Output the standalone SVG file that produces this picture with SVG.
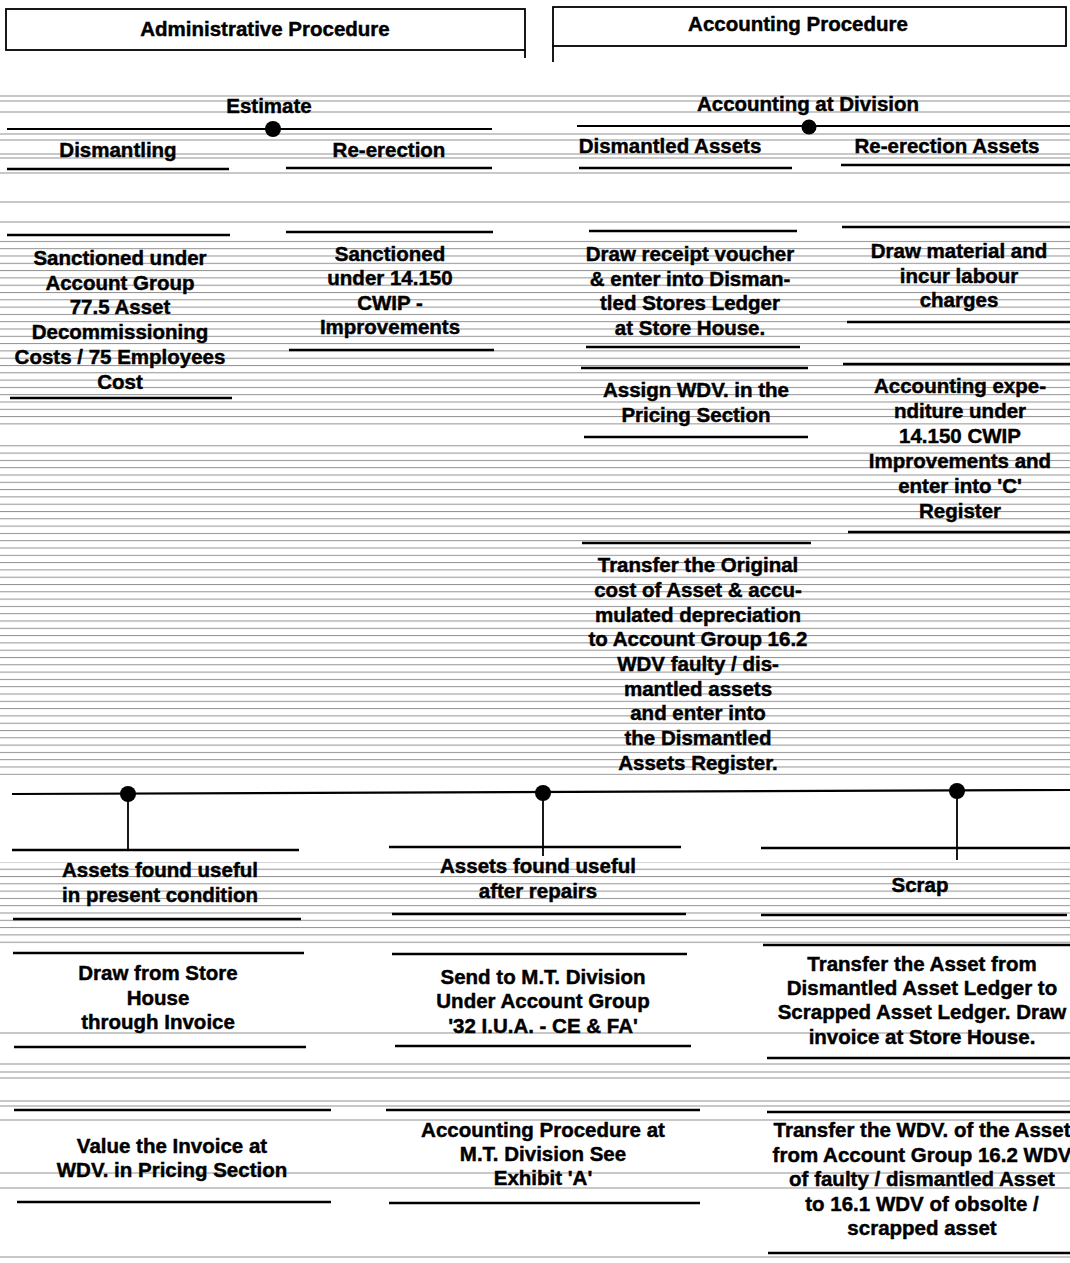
<svg xmlns="http://www.w3.org/2000/svg" width="1070" height="1263" viewBox="0 0 1070 1263">
<defs>
<pattern id="scan" x="0" y="0" width="20" height="7.3" patternUnits="userSpaceOnUse">
<line x1="0" y1="0.5" x2="20" y2="0.5" stroke="#919191" stroke-width="1"/>
</pattern>
<style>
.t{font-family:"Liberation Sans",Arial,Helvetica,sans-serif;font-weight:bold;font-size:20.5px;fill:#000;stroke:#000;stroke-width:0.45;text-anchor:middle}
.rule{stroke:#000;stroke-width:2.3;fill:none}
.box{stroke:#000;stroke-width:1.8;fill:none}
.conn{stroke:#000;stroke-width:2.2;fill:none}
.stem{stroke:#000;stroke-width:1.8;fill:none}
.dot{fill:#000}
.scanline{stroke:#919191;stroke-width:1}
</style>
</defs>
<rect x="0" y="0" width="1070" height="1263" fill="#fff"/>

<g id="scan-texture">
<line class="scanline" x1="0" y1="96" x2="1070" y2="96"/>
<line class="scanline" x1="0" y1="101" x2="1070" y2="101"/>
<line class="scanline" x1="0" y1="112" x2="1070" y2="112"/>
<line class="scanline" x1="0" y1="134" x2="1070" y2="134"/>
<line class="scanline" x1="0" y1="140" x2="1070" y2="140"/>
<line class="scanline" x1="0" y1="154" x2="1070" y2="154"/>
<line class="scanline" x1="0" y1="158" x2="1070" y2="158"/>
<line class="scanline" x1="0" y1="173" x2="1070" y2="173"/>
<line class="scanline" x1="0" y1="202" x2="1070" y2="202"/>
<line class="scanline" x1="0" y1="222" x2="1070" y2="222"/>
<rect x="0" y="238" width="1070" height="190" fill="url(#scan)"/>
<rect x="0" y="440" width="1070" height="335" fill="url(#scan)"/>
<rect x="0" y="862" width="1070" height="84" fill="url(#scan)"/>
<line class="scanline" x1="0" y1="1033" x2="1070" y2="1033"/>
<line class="scanline" x1="0" y1="1064" x2="1070" y2="1064"/>
<line class="scanline" x1="0" y1="1072" x2="1070" y2="1072"/>
<line class="scanline" x1="0" y1="1078" x2="1070" y2="1078"/>
<line class="scanline" x1="0" y1="1101" x2="1070" y2="1101"/>
<line class="scanline" x1="0" y1="1106" x2="1070" y2="1106"/>
<line class="scanline" x1="0" y1="1120" x2="1070" y2="1120"/>
<line class="scanline" x1="0" y1="1173" x2="1070" y2="1173"/>
<line class="scanline" x1="0" y1="1188" x2="1070" y2="1188"/>
<line class="scanline" x1="0" y1="1257" x2="1070" y2="1257"/>
</g>

<g id="connectors">
<line class="conn" x1="7" y1="129" x2="492" y2="129"/>
<circle class="dot" cx="273" cy="129" r="8"/>
<line class="conn" x1="577" y1="126" x2="1070" y2="126"/>
<circle class="dot" cx="809" cy="127" r="7.5"/>
<line class="conn" x1="12" y1="794" x2="1070" y2="790"/>
<circle class="dot" cx="128" cy="794" r="8"/>
<circle class="dot" cx="543" cy="793" r="8"/>
<circle class="dot" cx="957" cy="791" r="8"/>
<line class="stem" x1="128" y1="794" x2="128" y2="850"/>
<line class="stem" x1="543" y1="793" x2="543" y2="856"/>
<line class="stem" x1="957" y1="791" x2="957" y2="860"/>
</g>

<g id="admin-header">
<rect class="box" x="6" y="9" width="519" height="41"/>
<line class="stem" x1="525" y1="50" x2="525" y2="58"/>
<text class="t" x="265" y="36">Administrative Procedure</text>
</g>

<g id="acct-header">
<rect class="box" x="553" y="7" width="513" height="39"/>
<line class="stem" x1="553" y1="46" x2="553" y2="62"/>
<text class="t" x="798" y="31">Accounting Procedure</text>
</g>

<g id="estimate">
<text class="t" x="269" y="113">Estimate</text>
</g>

<g id="dismantling">
<text class="t" x="118" y="157">Dismantling</text>
<line class="rule" x1="7" y1="169" x2="229" y2="169"/>
</g>

<g id="re-erection">
<text class="t" x="389" y="157">Re-erection</text>
<line class="rule" x1="286" y1="168" x2="492" y2="168"/>
</g>

<g id="accounting-division">
<text class="t" x="808" y="111">Accounting at Division</text>
</g>

<g id="dismantled-assets">
<text class="t" x="670" y="153">Dismantled Assets</text>
<line class="rule" x1="579" y1="168" x2="792" y2="168"/>
</g>

<g id="re-erection-assets">
<text class="t" x="947" y="153">Re-erection Assets</text>
<line class="rule" x1="841" y1="165" x2="1070" y2="165"/>
</g>

<g id="sanctioned-77">
<line class="rule" x1="7" y1="235" x2="230" y2="235"/>
<text class="t" x="120" y="265">Sanctioned under</text>
<text class="t" x="120" y="290">Account Group</text>
<text class="t" x="120" y="314">77.5 Asset</text>
<text class="t" x="120" y="339">Decommissioning</text>
<text class="t" x="120" y="364">Costs / 75 Employees</text>
<text class="t" x="120" y="389">Cost</text>
<line class="rule" x1="10" y1="398" x2="232" y2="398"/>
</g>

<g id="sanctioned-14150">
<line class="rule" x1="286" y1="232" x2="493" y2="232"/>
<text class="t" x="390" y="261">Sanctioned</text>
<text class="t" x="390" y="285">under 14.150</text>
<text class="t" x="390" y="310">CWIP -</text>
<text class="t" x="390" y="334">Improvements</text>
<line class="rule" x1="289" y1="350" x2="494" y2="350"/>
</g>

<g id="receipt-voucher">
<line class="rule" x1="589" y1="231" x2="797" y2="231"/>
<text class="t" x="690" y="261">Draw receipt voucher</text>
<text class="t" x="690" y="286">&amp; enter into Disman-</text>
<text class="t" x="690" y="310">tled Stores Ledger</text>
<text class="t" x="690" y="335">at Store House.</text>
<line class="rule" x1="586" y1="347" x2="800" y2="347"/>
</g>

<g id="assign-wdv">
<line class="rule" x1="581" y1="368" x2="808" y2="368"/>
<text class="t" x="696" y="397">Assign WDV. in the</text>
<text class="t" x="696" y="422">Pricing Section</text>
<line class="rule" x1="584" y1="437" x2="808" y2="437"/>
</g>

<g id="transfer-original">
<line class="rule" x1="582" y1="543" x2="811" y2="543"/>
<text class="t" x="698" y="572">Transfer the Original</text>
<text class="t" x="698" y="597">cost of Asset &amp; accu-</text>
<text class="t" x="698" y="622">mulated depreciation</text>
<text class="t" x="698" y="646">to Account Group 16.2</text>
<text class="t" x="698" y="671">WDV faulty / dis-</text>
<text class="t" x="698" y="696">mantled assets</text>
<text class="t" x="698" y="720">and enter into</text>
<text class="t" x="698" y="745">the Dismantled</text>
<text class="t" x="698" y="770">Assets Register.</text>
</g>

<g id="draw-material">
<line class="rule" x1="842" y1="227" x2="1070" y2="227"/>
<text class="t" x="959" y="258">Draw material and</text>
<text class="t" x="959" y="283">incur labour</text>
<text class="t" x="959" y="307">charges</text>
<line class="rule" x1="847" y1="322" x2="1070" y2="322"/>
</g>

<g id="accounting-expenditure">
<line class="rule" x1="843" y1="364" x2="1070" y2="364"/>
<text class="t" x="960" y="393">Accounting expe-</text>
<text class="t" x="960" y="418">nditure under</text>
<text class="t" x="960" y="443">14.150 CWIP</text>
<text class="t" x="960" y="468">Improvements and</text>
<text class="t" x="960" y="493">enter into 'C'</text>
<text class="t" x="960" y="518">Register</text>
<line class="rule" x1="848" y1="532" x2="1070" y2="532"/>
</g>

<g id="useful-present">
<line class="rule" x1="12" y1="850" x2="299" y2="850"/>
<text class="t" x="160" y="877">Assets found useful</text>
<text class="t" x="160" y="902">in present condition</text>
<line class="rule" x1="13" y1="919" x2="301" y2="919"/>
</g>

<g id="useful-repairs">
<line class="rule" x1="389" y1="847" x2="681" y2="847"/>
<text class="t" x="538" y="873">Assets found useful</text>
<text class="t" x="538" y="898">after repairs</text>
<line class="rule" x1="392" y1="914" x2="686" y2="914"/>
</g>

<g id="scrap">
<line class="rule" x1="761" y1="848" x2="1070" y2="848"/>
<text class="t" x="920" y="892">Scrap</text>
<line class="rule" x1="761" y1="915" x2="1067" y2="915"/>
</g>

<g id="draw-from-store">
<line class="rule" x1="13" y1="953" x2="304" y2="953"/>
<text class="t" x="158" y="980">Draw from Store</text>
<text class="t" x="158" y="1005">House</text>
<text class="t" x="158" y="1029">through Invoice</text>
<line class="rule" x1="14" y1="1047" x2="306" y2="1047"/>
</g>

<g id="send-mt-division">
<line class="rule" x1="392" y1="954" x2="687" y2="954"/>
<text class="t" x="543" y="984">Send to M.T. Division</text>
<text class="t" x="543" y="1008">Under Account Group</text>
<text class="t" x="543" y="1033">'32 I.U.A. - CE &amp; FA'</text>
<line class="rule" x1="395" y1="1046" x2="691" y2="1046"/>
</g>

<g id="transfer-scrapped-ledger">
<line class="rule" x1="763" y1="945" x2="1070" y2="945"/>
<text class="t" x="922" y="971">Transfer the Asset from</text>
<text class="t" x="922" y="995">Dismantled Asset Ledger to</text>
<text class="t" x="922" y="1019">Scrapped Asset Ledger. Draw</text>
<text class="t" x="922" y="1044">invoice at Store House.</text>
<line class="rule" x1="767" y1="1058" x2="1070" y2="1058"/>
</g>

<g id="value-invoice">
<line class="rule" x1="14" y1="1110" x2="331" y2="1110"/>
<text class="t" x="172" y="1153">Value the Invoice at</text>
<text class="t" x="172" y="1177">WDV. in Pricing Section</text>
<line class="rule" x1="17" y1="1202" x2="331" y2="1202"/>
</g>

<g id="mt-exhibit">
<line class="rule" x1="386" y1="1110" x2="700" y2="1110"/>
<text class="t" x="543" y="1137">Accounting Procedure at</text>
<text class="t" x="543" y="1161">M.T. Division See</text>
<text class="t" x="543" y="1185">Exhibit 'A'</text>
<line class="rule" x1="389" y1="1203" x2="700" y2="1203"/>
</g>

<g id="transfer-wdv">
<line class="rule" x1="767" y1="1112" x2="1070" y2="1112"/>
<text class="t" x="922" y="1137">Transfer the WDV. of the Asset</text>
<text class="t" x="922" y="1162">from Account Group 16.2 WDV</text>
<text class="t" x="922" y="1186">of faulty / dismantled Asset</text>
<text class="t" x="922" y="1211">to 16.1 WDV of obsolte /</text>
<text class="t" x="922" y="1235">scrapped asset</text>
<line class="rule" x1="768" y1="1253" x2="1070" y2="1253"/>
</g>
</svg>
